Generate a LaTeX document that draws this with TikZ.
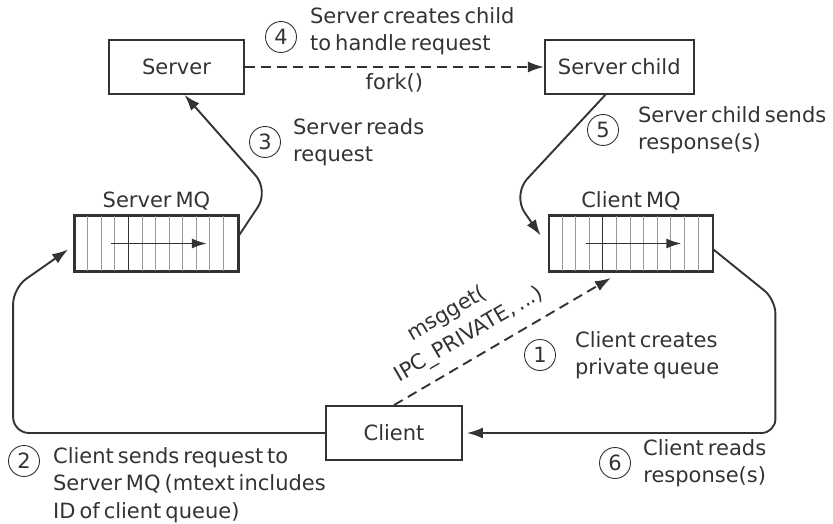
\documentclass[tikz,border=0pt]{standalone}
\usepackage{fontspec}
\setmainfont{DejaVu Sans}[WordSpace=0.6]
\usetikzlibrary{arrows.meta, positioning}
\definecolor{ink}{HTML}{333333}

\begin{document}
\begin{tikzpicture}[
    x=1pt, y=-1pt,
    every node/.style={text=ink, font=\fontsize{21}{27.5}\selectfont},
    box/.style={draw=ink, line width=1.8pt, minimum width=135pt, minimum height=54pt},
    queue/.style={draw=ink, line width=1.8pt, minimum width=163pt, minimum height=55pt, inner sep=0pt},
    arrow/.style={-{Latex[length=16pt, width=11pt]}, draw=ink, line width=1.9pt},
    darrow/.style={arrow, dash pattern=on 10pt off 6pt},
    num/.style={draw=ink, circle, line width=0.9pt, minimum size=31pt, inner sep=0pt},
    note/.style={align=left, inner sep=0pt},
    cell/.style={draw=ink!50, line width=1pt}
]
\useasboundingbox (0,0) rectangle (833,524);

% Processes
\node (server) [box] at (176.5,67) {Server};
\node (child) [box, minimum width=149pt, right=299pt of server] {Server child};
\node (client) [box, minimum width=136pt] at (394,433) {Client};

% Queues
\node (smq) [queue] at (156.5,243.5) {};
\node (cmq) [queue] at (631,243.5) {};
\node (smqlabel) [above=5pt of smq, inner sep=0pt] {Server MQ};
\node (cmqlabel) [above=5pt of cmq, inner sep=0pt] {Client MQ};
\foreach \q in {smq,cmq} {
  \foreach \i in {1,...,11}
    \draw [cell] ([xshift=\i*163pt/12]\q.north west) -- ([xshift=\i*163pt/12]\q.south west);
  \draw [draw=ink, line width=1pt] ([xshift=4*163pt/12]\q.north west) -- ([xshift=4*163pt/12]\q.south west);
  \draw [draw=ink, line width=1.8pt] (\q.north west) rectangle (\q.south east);
  \draw [arrow, -{Latex[length=15pt, width=10pt]}] ([xshift=37pt]\q.west) -- ([xshift=-32pt]\q.east);
}

% Steps
\node (num1) [num] at (540,355) {1};
\node (note1) [note, right=19pt of num1] {Client creates\\private queue};
\node (num2) [num] at (24,461) {2};
\node (note2) [note, right=13pt of num2, yshift=-24pt] {Client sends request to\\Server MQ (mtext includes\\ID of client queue)};
\node (num3) [num] at (265,142) {3};
\node (note3) [note, right=12pt of num3] {Server reads\\request};
\node (num4) [num] at (281,37) {4};
\node (note4) [note, right=13pt of num4, yshift=6pt] {Server creates child\\to handle request};
\node (num5) [num] at (603,130) {5};
\node (note5) [note, right=19pt of num5] {Server child sends\\response(s)};
\node (num6) [num] at (615,463) {6};
\node (note6) [note, align=center, right=12pt of num6] {Client reads\\response(s)};

% Arrows
\draw [darrow] (server.east) -- (child.west) node [midway, below=6pt, inner sep=0pt] {fork()};
\draw [darrow] (client.north) -- ([xshift=-20pt, yshift=-6pt]cmq.south)
    node [pos=0.4, sloped, above=11pt, note, font=\fontsize{21}{29}\selectfont] {\hspace*{1.5em}msgget(\\IPC\_PRIVATE, ...)};
\draw [arrow, rounded corners=16pt] (client.west) -- ++(-312,0) -- ++(0,-145) -- ([shift={(-6pt,-6pt)}]smq.west);
\draw [arrow, rounded corners=20pt] ([yshift=8pt]smq.east) -- ++(30,-45) -- ([xshift=8pt]server.south);
\draw [arrow, rounded corners=22pt] ([xshift=-14pt]child.south) -- ++(-93,100) -- ([shift={(-8pt,8pt)}]cmq.west);
\draw [arrow, rounded corners=14pt] ([yshift=-6pt]cmq.east) -- ++(62,50) |- ([xshift=4pt]client.east);

\end{tikzpicture}
\end{document}
